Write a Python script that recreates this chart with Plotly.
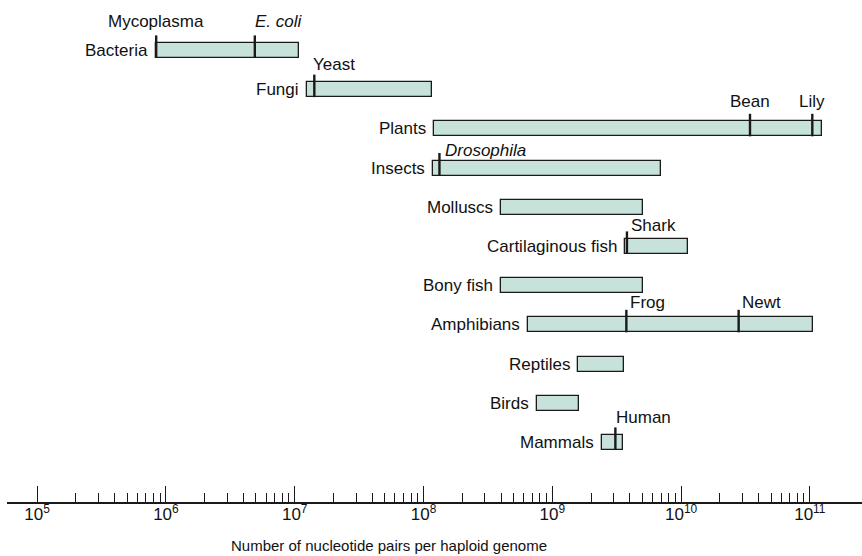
import numpy as np
import plotly.graph_objects as go

# ---- data ----
groups = ["Bacteria", "Fungi", "Plants", "Insects", "Molluscs", "Cartilaginous fish",
          "Bony fish", "Amphibians", "Reptiles", "Birds", "Mammals"]
range_min = [8.4e5, 1.25e7, 1.21e8, 1.18e8, 3.97e8, 3.67e9, 3.97e8, 6.44e8, 1.59e9, 7.6e8, 2.42e9]
range_max = [1.08e7, 1.16e8, 1.25e11, 6.98e9, 5.04e9, 1.14e10, 5.06e9, 1.05e11, 3.62e9, 1.6e9, 3.54e9]

species = ["Mycoplasma", "E. coli", "Yeast", "Bean", "Lily", "Drosophila",
           "Shark", "Frog", "Newt", "Human"]
species_group = ["Bacteria", "Bacteria", "Fungi", "Plants", "Plants", "Insects",
                 "Cartilaginous fish", "Amphibians", "Amphibians", "Mammals"]
species_size = [8.4e5, 4.9e6, 1.42e7, 3.43e10, 1.045e11, 1.33e8, 3.8e9, 3.76e9, 2.8e10, 3.09e9]
species_italic = [False, True, False, False, False, True, False, False, False, False]

tick_exponents = [5, 6, 7, 8, 9, 10, 11]
minor_multipliers = [2, 3, 4, 5, 6, 7, 8, 9]
x_title = "Number of nucleotide pairs per haploid genome"

# ---- styling / layout ----
FONT = "Liberation Sans, Arial, sans-serif"
FS = 17
BAR_FILL = "#c6e2db"
LINE = "#1a1a1a"
BAR_W = 0.38

# label placement: (anchor, x pixel shift, y pixel shift relative to bar centre)
label_place = {
    "Mycoplasma": ("center", 0, -29),
    "E. coli": ("left", -2, -29),
    "Yeast": ("left", -3, -25),
    "Bean": ("center", 0, -27),
    "Lily": ("center", 0, -27),
    "Drosophila": ("left", 4, -18),
    "Shark": ("left", 2, -21),
    "Frog": ("left", 2, -22),
    "Newt": ("left", 1, -22),
    "Human": ("left", -1, -25),
}

ypos = {g: i for i, g in enumerate(groups)}

fig = go.Figure()

fig.add_trace(go.Bar(
    y=list(range(len(groups))),
    x=[hi - lo for lo, hi in zip(range_min, range_max)],
    base=range_min,
    orientation="h",
    width=BAR_W,
    marker=dict(color=BAR_FILL, line=dict(color=LINE, width=1.3)),
    hoverinfo="skip",
    showlegend=False,
))

# species marker lines
mx, my = [], []
for s, g, v in zip(species, species_group, species_size):
    i = ypos[g]
    mx += [v, v, None]
    my += [i - 0.385, i + BAR_W / 2, None]
fig.add_trace(go.Scatter(x=mx, y=my, mode="lines",
                         line=dict(color=LINE, width=2.4),
                         hoverinfo="skip", showlegend=False))

# invisible trace on the second x axis so it is drawn
fig.add_trace(go.Scatter(x=[10 ** tick_exponents[0]], y=[0], xaxis="x2", mode="markers",
                         marker=dict(opacity=0), hoverinfo="skip", showlegend=False))

annotations = []
for g, lo in zip(groups, range_min):
    annotations.append(dict(
        x=np.log10(lo), y=ypos[g], xref="x", yref="y",
        text=g, showarrow=False, xanchor="right", yanchor="middle",
        xshift=-6, font=dict(family=FONT, size=FS, color="#111"),
    ))
for s, g, v, it in zip(species, species_group, species_size, species_italic):
    anchor, dx, dy = label_place[s]
    annotations.append(dict(
        x=np.log10(v), y=ypos[g], xref="x", yref="y",
        text=f"<i>{s}</i>" if it else s, showarrow=False,
        xanchor=anchor, yanchor="middle", xshift=dx, yshift=-dy,
        font=dict(family=FONT, size=FS, color="#111"),
    ))

W, H = 862, 556
ML, MR, MT, MB = 7, 0, 0, 54
pw, ph = W - ML - MR, H - MT - MB
annotations.append(dict(
    x=(389 - ML) / pw, y=1 - (545 - MT) / ph, xref="paper", yref="paper",
    text=x_title, showarrow=False,
    font=dict(family=FONT, size=15, color="#111"), xanchor="center", yanchor="middle",
))

row_px = 39.2
first_px = 50.5
y_top = -first_px / row_px
y_bot = (H - MB - first_px) / row_px

XR = [4.766, 11.405]
minor_vals = [m * 10 ** e for e in tick_exponents[:-1] for m in minor_multipliers]

fig.update_layout(
    width=W, height=H,
    margin=dict(l=ML, r=MR, t=MT, b=MB, pad=0),
    plot_bgcolor="white", paper_bgcolor="white",
    annotations=annotations,
    bargap=0,
    xaxis=dict(
        type="log", range=XR,
        showgrid=False, zeroline=False,
        showline=True, linecolor=LINE, linewidth=1.5,
        ticks="inside", ticklen=9, tickwidth=1.1, tickcolor=LINE,
        tickvals=minor_vals, ticktext=[""] * len(minor_vals),
        showticklabels=False,
        fixedrange=True,
    ),
    xaxis2=dict(
        type="log", range=XR, overlaying="x", side="bottom", anchor="y",
        showgrid=False, zeroline=False, showline=False,
        ticks="inside", ticklen=16, tickwidth=1.3, tickcolor=LINE,
        tickvals=[10 ** e for e in tick_exponents],
        ticktext=[f"10<sup>{e}</sup>" for e in tick_exponents],
        tickfont=dict(family=FONT, size=FS, color="#111"),
        fixedrange=True,
    ),
    yaxis=dict(
        range=[y_bot, y_top], showgrid=False, zeroline=False,
        showline=False, showticklabels=False, ticks="",
        fixedrange=True,
    ),
)

fig.write_html("out.html")
